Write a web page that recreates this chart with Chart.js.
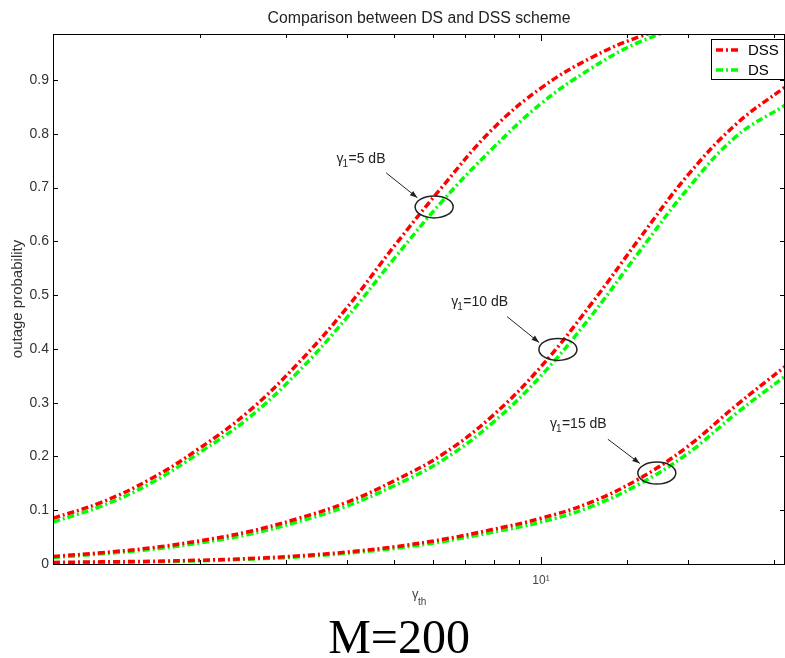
<!DOCTYPE html>
<html>
<head>
<meta charset="utf-8">
<script src="https://cdn.jsdelivr.net/npm/chart.js@4"></script>
<style>
  html, body { margin: 0; padding: 0; background: #fff; overflow: hidden; }
  #wrap { width: 785px; height: 658px; }
</style>
</head>
<body>
<div id="wrap"><canvas id="myChart" width="785" height="658"></canvas></div>
<script>
// gamma_th axis (linear values, 0..15 dB in 1 dB steps)
const gammaTh = [1, 1.259, 1.585, 1.995, 2.512, 3.162, 3.981, 5.012, 6.310, 7.943, 10, 12.59, 15.85, 19.95, 25.12, 31.62];

// gamma_1 = 5 dB
const dss5 = [0.085, 0.115, 0.158, 0.215, 0.283, 0.371, 0.474, 0.592, 0.704, 0.808, 0.885, 0.94, 0.98, 1.005, 1.02, 1.03];
const ds5 = [0.078, 0.108, 0.150, 0.207, 0.271, 0.355, 0.456, 0.569, 0.677, 0.772, 0.856, 0.92, 0.97, 1.0, 1.02, 1.03];
// gamma_1 = 10 dB
const dss10 = [0.014, 0.021, 0.030, 0.043, 0.060, 0.084, 0.114, 0.155, 0.205, 0.275, 0.367, 0.48, 0.603, 0.722, 0.818, 0.887];
const ds10 = [0.012, 0.019, 0.027, 0.039, 0.055, 0.078, 0.107, 0.146, 0.194, 0.262, 0.35, 0.458, 0.579, 0.697, 0.795, 0.853];
// gamma_1 = 15 dB
const dss15 = [0.003, 0.004, 0.005, 0.007, 0.010, 0.015, 0.022, 0.032, 0.046, 0.064, 0.085, 0.114, 0.158, 0.218, 0.295, 0.367];
const ds15 = [0.002, 0.003, 0.004, 0.006, 0.009, 0.013, 0.020, 0.029, 0.042, 0.059, 0.078, 0.106, 0.148, 0.205, 0.28, 0.349];

const yTicks = [0, 0.1, 0.2, 0.3, 0.4, 0.5, 0.6, 0.7, 0.8, 0.9];

// annotations (data coordinates)
const noteLabels = ["=5 dB", "=10 dB", "=15 dB"];
const noteX = [3.81, 6.55, 10.43];
const noteY = [0.746, 0.479, 0.252];
const arrowFromX = [4.82, 8.52, 13.71];
const arrowFromY = [0.727, 0.46, 0.232];
const arrowToX = [5.58, 9.91, 15.94];
const arrowToY = [0.681, 0.412, 0.187];
const ringX = [6.04, 10.83, 17.27];
const ringY = [0.664, 0.399, 0.169];

const FONT = '"Liberation Sans", Arial, sans-serif';

function pts(ys) {
  return gammaTh.map((x, i) => ({ x: x, y: ys[i] }));
}

function line(label, ys, color) {
  return {
    label: label,
    data: pts(ys),
    borderColor: color,
    backgroundColor: color,
    borderWidth: 3.5,
    borderDash: [7, 3, 2, 3],
    pointRadius: 0,
    tension: 0.4,
  };
}

const decor = {
  id: "decor",
  afterDraw(chart) {
    const ctx = chart.ctx;
    const a = chart.chartArea;
    const xs = chart.scales.x;
    const ys = chart.scales.y;
    ctx.save();

    // frame
    ctx.strokeStyle = "#000";
    ctx.lineWidth = 1;
    ctx.strokeRect(a.left + 0.5, a.top + 0.5, a.right - a.left - 1, a.bottom - a.top);

    // inward ticks
    ctx.beginPath();
    yTicks.forEach((v) => {
      const py = Math.round(ys.getPixelForValue(v)) + 0.5;
      ctx.moveTo(a.left, py); ctx.lineTo(a.left + 5, py);
      ctx.moveTo(a.right, py); ctx.lineTo(a.right - 5, py);
    });
    xs.ticks.forEach((t) => {
      if (t.value <= 1 || t.value >= 31) return;
      const px = Math.round(xs.getPixelForValue(t.value)) + 0.5;
      const len = t.value === 10 ? 7 : 4;
      ctx.moveTo(px, a.bottom); ctx.lineTo(px, a.bottom - len);
      ctx.moveTo(px, a.top); ctx.lineTo(px, a.top + len);
    });
    ctx.stroke();

    // title
    const cx = (a.left + a.right) / 2;
    ctx.fillStyle = "#222";
    ctx.textAlign = "center";
    ctx.textBaseline = "alphabetic";
    ctx.font = "15.8px " + FONT;
    ctx.fillText("Comparison between DS and DSS scheme", cx, 23);

    // x axis label gamma_th
    ctx.fillStyle = "#444";
    ctx.font = "13px " + FONT;
    ctx.textAlign = "left";
    ctx.fillText("\u03B3", cx - 7, 598);
    ctx.font = "10px " + FONT;
    ctx.fillText("th", cx - 1, 605);

    // M=200
    ctx.fillStyle = "#000";
    ctx.textAlign = "center";
    ctx.font = '48px "Liberation Serif", "Times New Roman", serif';
    ctx.fillText("M=200", cx - 20, 653);

    // annotations
    ctx.strokeStyle = "#222";
    ctx.fillStyle = "#222";
    ctx.lineWidth = 1;
    for (let i = 0; i < noteLabels.length; i++) {
      const tx = xs.getPixelForValue(noteX[i]);
      const ty = ys.getPixelForValue(noteY[i]);
      ctx.textAlign = "left";
      ctx.font = "14px " + FONT;
      ctx.fillText("\u03B3", tx, ty);
      ctx.font = "10px " + FONT;
      ctx.fillText("1", tx + 6, ty + 4);
      ctx.font = "14px " + FONT;
      ctx.fillText(noteLabels[i], tx + 12, ty);

      const x1 = xs.getPixelForValue(arrowFromX[i]);
      const y1 = ys.getPixelForValue(arrowFromY[i]);
      const x2 = xs.getPixelForValue(arrowToX[i]);
      const y2 = ys.getPixelForValue(arrowToY[i]);
      const ang = Math.atan2(y2 - y1, x2 - x1);
      ctx.beginPath();
      ctx.moveTo(x1, y1); ctx.lineTo(x2, y2);
      ctx.stroke();
      ctx.beginPath();
      ctx.moveTo(x2, y2);
      ctx.lineTo(x2 - 8 * Math.cos(ang - 0.35), y2 - 8 * Math.sin(ang - 0.35));
      ctx.lineTo(x2 - 8 * Math.cos(ang + 0.35), y2 - 8 * Math.sin(ang + 0.35));
      ctx.closePath();
      ctx.fill();

      const ex = xs.getPixelForValue(ringX[i]);
      const ey = ys.getPixelForValue(ringY[i]);
      ctx.beginPath();
      ctx.ellipse(ex, ey, 19, 11, 0, 0, Math.PI * 2);
      ctx.lineWidth = 1.5;
      ctx.stroke();
      ctx.lineWidth = 1;
    }

    // legend box (top right, inside axes)
    const items = chart.data.datasets.slice(0, 2);
    const bw = 74, bh = 41;
    const bx = a.right - bw, by = a.top + 5;
    ctx.fillStyle = "#fff";
    ctx.fillRect(bx, by, bw, bh);
    ctx.strokeStyle = "#000";
    ctx.strokeRect(bx + 0.5, by + 0.5, bw - 1, bh - 1);
    items.forEach((d, i) => {
      const ly = by + 11 + i * 20;
      ctx.strokeStyle = d.borderColor;
      ctx.lineWidth = 3.5;
      ctx.setLineDash([7, 3, 2, 3]);
      ctx.beginPath();
      ctx.moveTo(bx + 5, ly); ctx.lineTo(bx + 30, ly);
      ctx.stroke();
      ctx.setLineDash([]);
      ctx.fillStyle = "#000";
      ctx.font = "15px " + FONT;
      ctx.textAlign = "left";
      ctx.textBaseline = "middle";
      ctx.fillText(d.label, bx + 37, ly + 1);
    });
    ctx.restore();
  },
};

new Chart(document.getElementById("myChart").getContext("2d"), {
  type: "line",
  data: {
    datasets: [
      line("DSS", dss5, "#ff0000"),
      line("DS", ds5, "#00ff00"),
      line("DSS", dss10, "#ff0000"),
      line("DS", ds10, "#00ff00"),
      line("DSS", dss15, "#ff0000"),
      line("DS", ds15, "#00ff00"),
    ],
  },
  options: {
    responsive: false,
    animation: false,
    layout: { padding: { top: 34, left: 0, right: 0, bottom: 0 } },
    plugins: {
      legend: { display: false },
      title: { display: false },
      tooltip: { enabled: false },
    },
    scales: {
      x: {
        type: "logarithmic",
        min: 1,
        max: 31.62,
        grid: { display: false, drawTicks: false },
        border: { display: false },
        ticks: {
          autoSkip: false,
          maxRotation: 0,
          padding: 9,
          color: "#444",
          font: { family: FONT, size: 12 },
          callback: (v) => (v === 10 ? "10\u00B9" : ""),
        },
        afterFit: (scale) => {
          scale.height = 94;
          scale.paddingLeft = 0;
          scale.paddingRight = 0;
        },
      },
      y: {
        type: "linear",
        min: 0,
        max: 0.9855,
        grid: { display: false, drawTicks: false },
        border: { display: false },
        ticks: {
          stepSize: 0.1,
          includeBounds: false,
          padding: 4,
          color: "#333",
          font: { family: FONT, size: 14 },
          callback: (v) => String(Math.round(v * 10) / 10),
        },
        title: {
          display: true,
          text: "outage probability",
          color: "#333",
          font: { family: FONT, size: 15 },
          padding: { top: 9, bottom: 0 },
        },
        afterFit: (scale) => { scale.width = 53; },
      },
    },
  },
  plugins: [decor],
});
</script>
</body>
</html>
